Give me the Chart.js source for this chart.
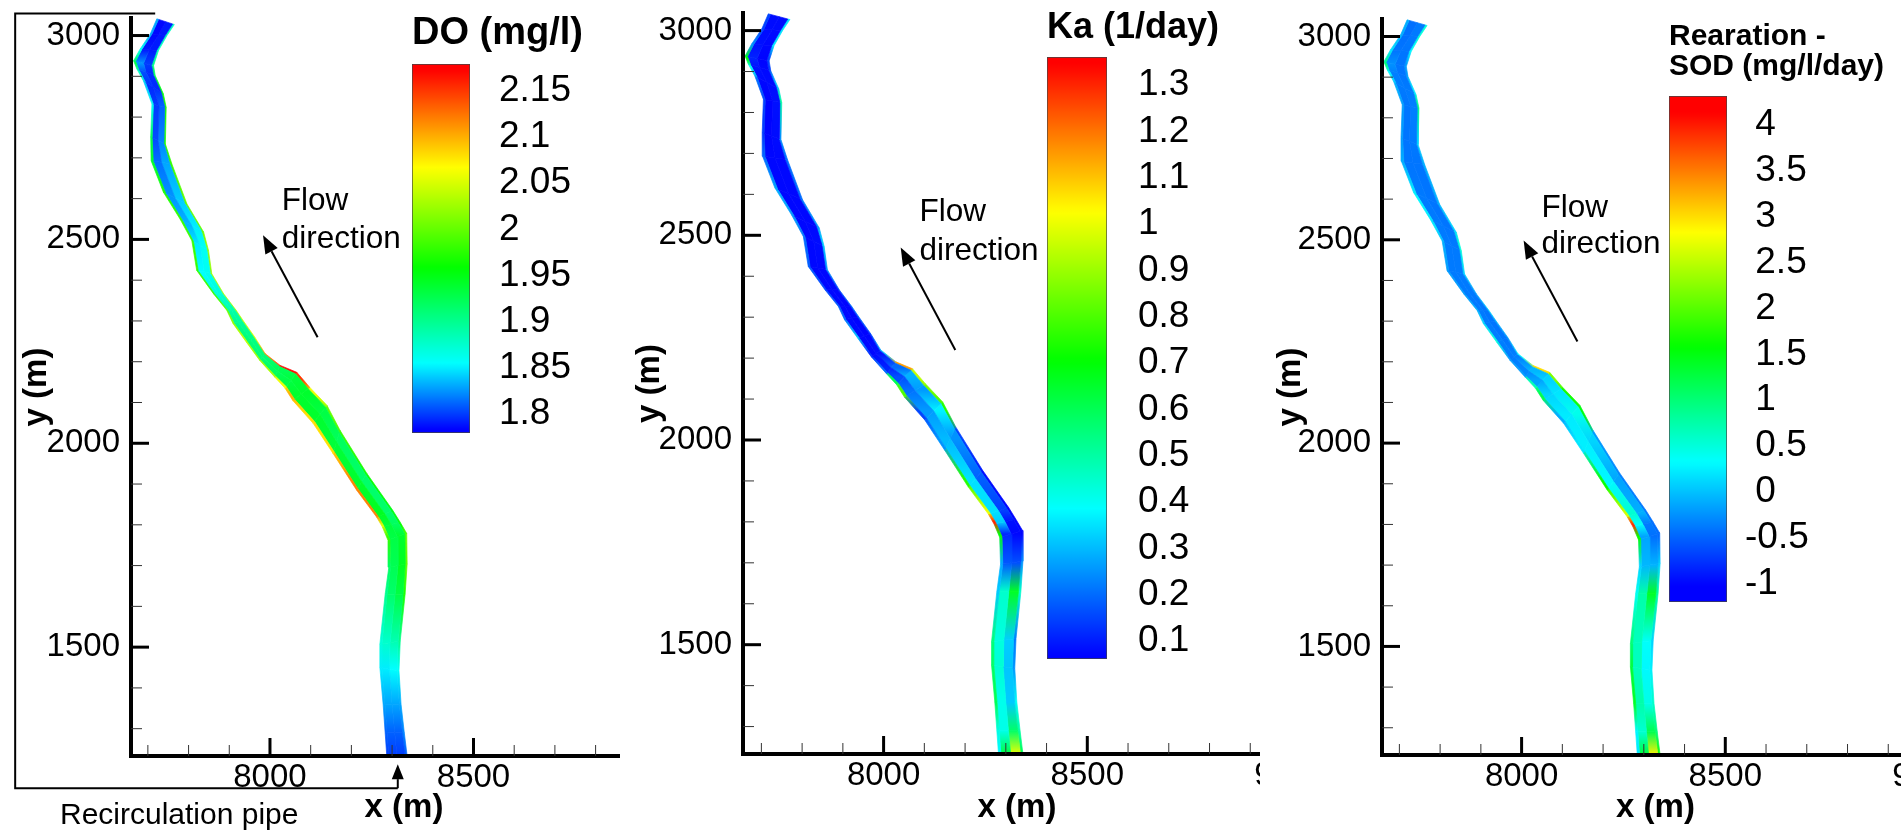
<!DOCTYPE html>
<html>
<head>
<meta charset="utf-8">
<title>DO, Ka and Rearation - SOD along the river</title>
<script src="https://cdn.jsdelivr.net/npm/chart.js@4"></script>
<style>
html, body { margin: 0; background: #fff; overflow: hidden; }
#page { position: relative; width: 1901px; height: 834px; overflow: hidden; }
.clip { position: absolute; top: 0; height: 834px; overflow: hidden; }
canvas { position: absolute; display: block; }
</style>
</head>
<body>
<div id="page"></div>
<script>
// river banks in metres, one pair per cross section, upstream end first
const leftX = [7722,7706,7681,7665,7673,7689,7710,7707,7708,7738,7779,7808,7820,7861,7894,7909,7942,7975,8012,8037,8056,8106,8155,8213,8262,8276,8290,8292,8283,8270,8270,8278,8283,8287];
const leftY = [3041,3004,2967,2938,2918,2889,2832,2751,2693,2616,2550,2497,2424,2367,2326,2294,2248,2203,2162,2135,2105,2049,1975,1885,1819,1795,1762,1696,1630,1507,1450,1360,1290,1233];
const rightX = [7765,7747,7726,7714,7718,7738,7745,7743,7759,7796,7837,7849,7857,7886,7917,7934,7963,7988,8025,8066,8098,8140,8172,8238,8302,8320,8336,8337,8332,8320,8317,8322,8330,8337];
const rightY = [3027,3000,2963,2926,2902,2857,2824,2734,2685,2587,2518,2473,2416,2367,2326,2301,2260,2220,2191,2174,2137,2093,2032,1926,1835,1806,1779,1704,1630,1515,1442,1360,1290,1233];

// values across each section: left bank, inner left, middle, inner right, right bank
const doRows = [
  [1.83,1.79,1.78,1.80,1.88],[1.83,1.79,1.78,1.80,1.88],[1.86,1.80,1.78,1.80,1.88],[1.93,1.85,1.80,1.80,1.90],
  [1.88,1.82,1.79,1.80,1.92],[1.84,1.80,1.79,1.80,1.95],[1.86,1.80,1.80,1.82,1.97],[1.93,1.80,1.81,1.83,1.97],
  [1.94,1.81,1.82,1.84,1.98],[1.97,1.82,1.83,1.85,2.00],[1.98,1.83,1.84,1.86,2.00],[1.98,1.85,1.85,1.87,2.02],
  [1.98,1.86,1.85,1.87,2.02],[1.98,1.88,1.86,1.88,2.03],[2.00,1.90,1.88,1.90,2.03],[2.02,1.91,1.89,1.90,2.04],
  [2.04,1.92,1.90,1.91,2.05],[2.02,1.92,1.90,1.92,2.12],[2.03,1.93,1.91,1.94,2.17],[2.06,1.94,1.92,1.95,2.15],
  [2.10,1.95,1.93,1.95,2.06],[2.08,1.95,1.93,1.93,2.00],[2.08,1.95,1.92,1.92,1.98],[2.12,1.96,1.92,1.91,1.96],
  [2.12,1.97,1.92,1.91,1.95],[2.05,1.95,1.92,1.92,1.96],[1.98,1.93,1.93,1.95,2.00],[1.92,1.92,1.93,1.96,2.00],
  [1.90,1.91,1.92,1.94,1.97],[1.87,1.87,1.88,1.89,1.90],[1.85,1.85,1.85,1.86,1.86],[1.83,1.83,1.83,1.83,1.83],
  [1.81,1.81,1.81,1.81,1.82],[1.80,1.80,1.80,1.80,1.81]
];
const kaRows = [
  [.15,.09,.07,.09,.35],[.15,.09,.07,.09,.35],[.25,.10,.07,.08,.35],[.70,.15,.07,.07,.15],
  [.40,.10,.07,.08,.15],[.20,.08,.07,.09,.30],[.15,.07,.07,.10,.50],[.14,.07,.07,.09,.25],
  [.20,.08,.07,.08,.20],[.28,.08,.07,.08,.20],[.25,.08,.07,.08,.25],[.20,.08,.07,.09,.32],
  [.18,.08,.07,.08,.25],[.15,.08,.07,.08,.15],[.18,.08,.07,.07,.20],[.20,.08,.07,.07,.18],
  [.30,.08,.07,.07,.15],[.12,.08,.07,.10,.30],[.20,.12,.10,.30,1.15],[.60,.15,.18,.40,.95],
  [.80,.20,.22,.30,.85],[.15,.20,.32,.42,.75],[.25,.30,.30,.20,.15],[.75,.45,.25,.12,.08],
  [1.00,.50,.20,.09,.07],[1.30,.55,.10,.07,.07],[.70,.15,.08,.07,.07],[.28,.20,.15,.18,.25],
  [.32,.30,.60,.72,.45],[.55,.45,.40,.25,.22],[.58,.50,.38,.25,.25],[.60,.50,.32,.32,.40],
  [.42,.38,.45,.70,.50],[.38,.35,.90,1.10,.60]
];
const sodRows = [
  [-.1,-.4,-.45,-.3,.5],[-.1,-.4,-.45,-.3,.5],[.2,-.35,-.45,-.35,.3],[1.0,-.1,-.4,-.4,-.2],
  [.3,-.3,-.4,-.4,-.2],[-.1,-.35,-.4,-.35,.2],[-.2,-.4,-.4,-.3,.9],[-.2,-.4,-.4,-.35,.1],
  [-.1,-.4,-.4,-.4,-.1],[.3,-.35,-.4,-.4,-.1],[.2,-.35,-.4,-.4,.1],[-.1,-.35,-.4,-.35,.5],
  [-.2,-.35,-.4,-.35,.1],[-.2,-.35,-.4,-.35,-.2],[-.1,-.35,-.4,-.4,.1],[.1,-.35,-.4,-.4,-.1],
  [.5,-.3,-.4,-.4,-.2],[-.2,-.35,-.4,-.3,.3],[-.2,-.3,-.3,.2,3.0],[.7,-.2,-.1,.3,2.2],
  [1.2,.1,.1,.3,1.7],[-.1,.1,.35,.5,1.5],[.2,.3,.2,0,-.2],[1.6,.6,0,-.3,-.35],
  [2.6,1.0,.1,-.3,-.4],[3.9,1.0,-.3,-.45,-.45],[1.6,.1,-.4,-.45,-.45],[.1,0,-.1,-.05,.1],
  [.4,.3,1.2,1.6,.8],[1.0,.8,.5,.2,.1],[1.3,.9,.4,.2,.25],[1.4,1.0,.5,.4,.6],
  [.3,.3,.8,1.6,1.0],[.2,.2,2.4,3.4,1.7]
];

const xTicks = [7700,7800,7900,8000,8100,8200,8300,8400,8500,8600,8700,8800,8900,9000];
const xLabels = [8000,8500,9000];
const yTicks = [1300,1400,1500,1600,1700,1800,1900,2000,2100,2200,2300,2400,2500,2600,2700,2800,2900,3000];
const yLabels = [1500,2000,2500,3000];

const doTicks = [2.15,2.1,2.05,2,1.95,1.9,1.85,1.8];
const kaTicks = [1.3,1.2,1.1,1,.9,.8,.7,.6,.5,.4,.3,.2,.1];
const sodTicks = [4,3.5,3,2.5,2,1.5,1,.5,0,-.5,-1];

// value at blue, cyan, green, yellow, red
const doStops = [1.783,1.855,1.958,2.067,2.173];
const kaStops = [.066,.386,.706,1.026,1.346];
const sodStops = [-1.02,.33,1.58,2.83,4.13];
const rampColors = [[0,0,255],[0,255,255],[0,255,0],[255,255,0],[255,0,0]];

const acrossBank = [0,.1,.5,.9,1];

const panels = [
  {
    rows: doRows, stops: doStops, left: 0, clipWidth: 620, axisLeft: 131, axisRight: 677.5, top: 18, bottom: 756,
    widen: 0, yTitleX: 37, arrow: [[8117,2260],[7983,2510]], flow: [8029,2594,2499],
    pipe: [[7718,3054],[7374,3054],[7374,1154],[8314,1154],[8314,1213]],
    bar: { left: 412, right: 470, top: 64, bottom: 433, min: 1.7793, max: 2.1793, ticks: doTicks, title: 'DO (mg/l)', size: 38, gap: 11, pad: 29, width: 175 }
  },
  {
    rows: kaRows, stops: kaStops, left: 625, clipWidth: 635, axisLeft: 743, axisRight: 1291, top: 13, bottom: 754,
    widen: 5, yTitleX: 25, arrow: [[8176,2220],[8042,2470]], flow: [8088,2556,2462],
    bar: { left: 1047, right: 1107, top: 57, bottom: 659, min: .0615, max: 1.3605, ticks: kaTicks, title: 'Ka (1/day)', size: 36, gap: 11, pad: 31, width: 180 }
  },
  {
    rows: sodRows, stops: sodStops, left: 1265, clipWidth: 636, axisLeft: 1382, axisRight: 1929, top: 19, bottom: 755,
    widen: 3, yTitleX: 26, arrow: [[8137,2250],[8005,2498]], flow: [8049,2578,2488],
    bar: { left: 1669, right: 1727, top: 96, bottom: 602, min: -1.197, max: 4.313, ticks: sodTicks, title: ['Rearation -','SOD (mg/l/day)'], size: 30, gap: 14, pad: 18, width: 232 }
  }
];

const labelFont = '"Liberation Sans", Arial, sans-serif';

function rampColor(value, stops) {
  if (value <= stops[0]) return 'rgb(0,0,255)';
  for (let i = 1; i < stops.length; i++) {
    if (value <= stops[i]) {
      const t = (value - stops[i - 1]) / (stops[i] - stops[i - 1]);
      const a = rampColors[i - 1], b = rampColors[i];
      return 'rgb(' + Math.round(a[0] + (b[0] - a[0]) * t) + ',' + Math.round(a[1] + (b[1] - a[1]) * t) + ',' + Math.round(a[2] + (b[2] - a[2]) * t) + ')';
    }
  }
  return 'rgb(255,0,0)';
}

// vertical gradient between two cross sections, used for the river cells
function cellGradient(context) {
  const chart = context.chart, ds = context.dataset;
  if (!chart.scales.y) return ds.colorTop;
  const y1 = chart.scales.y.getPixelForValue(ds.yTop);
  const y2 = chart.scales.y.getPixelForValue(ds.yBottom);
  if (!isFinite(y1) || !isFinite(y2)) return ds.colorTop;
  const g = chart.ctx.createLinearGradient(0, y1, 0, y2);
  g.addColorStop(0, ds.colorTop);
  g.addColorStop(1, ds.colorBottom);
  return g;
}

// the two thin bank cells show the bank value, the inner cells the mean of their edges
function cellValue(row, k) {
  if (k === 0) return row[0];
  if (k === acrossBank.length - 2) return row[row.length - 1];
  return (row[k] + row[k + 1]) / 2;
}

function riverCells(rows, stops, widen) {
  const cells = [];
  function at(i, k) {
    const f = acrossBank[k];
    const lx = leftX[i] - widen, rx = rightX[i] + widen;
    return { x: lx + (rx - lx) * f, y: leftY[i] + (rightY[i] - leftY[i]) * f };
  }
  for (let i = 0; i < rows.length - 1; i++) {
    for (let k = 0; k < acrossBank.length - 1; k++) {
      cells.push({
        data: [at(i, k), at(i, k + 1), at(i + 1, k + 1), at(i + 1, k), at(i, k)],
        showLine: true,
        fill: 'shape',
        pointRadius: 0,
        borderWidth: 0.7,
        yTop: (leftY[i] + rightY[i]) / 2,
        yBottom: (leftY[i + 1] + rightY[i + 1]) / 2,
        colorTop: rampColor(cellValue(rows[i], k), stops),
        colorBottom: rampColor(cellValue(rows[i + 1], k), stops),
        backgroundColor: cellGradient,
        borderColor: cellGradient
      });
    }
  }
  return cells;
}

function drawArrow(ctx, x1, y1, x2, y2, width, headLen, headHalf) {
  const a = Math.atan2(y2 - y1, x2 - x1);
  const bx = x2 - Math.cos(a) * headLen, by = y2 - Math.sin(a) * headLen;
  ctx.strokeStyle = '#000';
  ctx.fillStyle = '#000';
  ctx.lineWidth = width;
  ctx.beginPath();
  ctx.moveTo(x1, y1);
  ctx.lineTo(bx, by);
  ctx.stroke();
  ctx.beginPath();
  ctx.moveTo(x2, y2);
  ctx.lineTo(bx + Math.sin(a) * headHalf, by - Math.cos(a) * headHalf);
  ctx.lineTo(bx - Math.sin(a) * headHalf, by + Math.cos(a) * headHalf);
  ctx.closePath();
  ctx.fill();
}

// ticks point into the plot, which the library's own tick marks can't do
const panelExtras = {
  id: 'panelExtras',
  afterDraw(chart, args, opts) {
    const ctx = chart.ctx, sx = chart.scales.x, sy = chart.scales.y, p = opts.panel;
    const area = chart.chartArea;
    ctx.save();
    sx.ticks.forEach(t => {
      const major = xLabels.includes(t.value);
      const px = sx.getPixelForValue(t.value);
      ctx.strokeStyle = major ? '#000' : '#333';
      ctx.lineWidth = major ? 3 : 1;
      ctx.beginPath();
      ctx.moveTo(px, area.bottom);
      ctx.lineTo(px, area.bottom - (major ? 18 : 11));
      ctx.stroke();
    });
    sy.ticks.forEach(t => {
      const major = yLabels.includes(t.value);
      const py = sy.getPixelForValue(t.value);
      ctx.strokeStyle = major ? '#000' : '#333';
      ctx.lineWidth = major ? 3 : 1;
      ctx.beginPath();
      ctx.moveTo(area.left, py);
      ctx.lineTo(area.left + (major ? 18 : 11), py);
      ctx.stroke();
    });

    drawArrow(ctx, sx.getPixelForValue(p.arrow[0][0]), sy.getPixelForValue(p.arrow[0][1]),
      sx.getPixelForValue(p.arrow[1][0]), sy.getPixelForValue(p.arrow[1][1]), 2, 18, 7);

    ctx.fillStyle = '#000';
    ctx.font = '31.5px ' + labelFont;
    ctx.textAlign = 'left';
    ctx.textBaseline = 'middle';
    ctx.fillText('Flow', sx.getPixelForValue(p.flow[0]), sy.getPixelForValue(p.flow[1]));
    ctx.fillText('direction', sx.getPixelForValue(p.flow[0]), sy.getPixelForValue(p.flow[2]));

    if (p.pipe) {
      ctx.lineWidth = 2;
      ctx.strokeStyle = '#000';
      ctx.beginPath();
      p.pipe.slice(0, 4).forEach((pt, i) => {
        const px = sx.getPixelForValue(pt[0]), py = sy.getPixelForValue(pt[1]);
        if (i === 0) ctx.moveTo(px, py); else ctx.lineTo(px, py);
      });
      ctx.stroke();
      drawArrow(ctx, sx.getPixelForValue(p.pipe[3][0]), sy.getPixelForValue(p.pipe[3][1]),
        sx.getPixelForValue(p.pipe[4][0]), sy.getPixelForValue(p.pipe[4][1]), 2, 15, 6);
      ctx.fillStyle = '#000';
      ctx.font = '30px ' + labelFont;
      ctx.textAlign = 'left';
      ctx.textBaseline = 'middle';
      ctx.fillText('Recirculation pipe', 60, 816);
    }
    ctx.restore();
  }
};

// chart.js reserves room for the end tick labels, the axes here have to sit exactly
function noLabelPadding(s) {
  s.paddingTop = 0;
  s.paddingBottom = 0;
  s.paddingLeft = 0;
  s.paddingRight = 0;
}

function makeRiverChart(p, holder) {
  const clip = document.createElement('div');
  clip.className = 'clip';
  clip.style.left = p.left + 'px';
  clip.style.width = p.clipWidth + 'px';
  const canvas = document.createElement('canvas');
  canvas.width = p.axisRight - p.left + 50;
  canvas.height = 834;
  canvas.style.left = '0px';
  canvas.style.top = '0px';
  clip.appendChild(canvas);
  holder.appendChild(clip);

  // px per metre is about the same on both axes in all three panels
  const xMin = 9000 - (p.axisRight - p.axisLeft) / 0.4074;

  new Chart(canvas, {
    type: 'scatter',
    data: { datasets: riverCells(p.rows, p.stops, p.widen) },
    plugins: [panelExtras],
    options: {
      responsive: false,
      animation: false,
      events: [],
      layout: { padding: { top: p.top, right: 50, left: 0, bottom: 0 } },
      plugins: { legend: { display: false }, tooltip: { enabled: false }, panelExtras: { panel: p } },
      scales: {
        x: {
          type: 'linear', min: xMin, max: 9000,
          grid: { display: false, drawTicks: false },
          border: { display: true, color: '#000', width: 4, z: 2 },
          afterBuildTicks: s => { s.ticks = xTicks.map(v => ({ value: v })); },
          afterFit: s => { s.height = 834 - p.bottom; noLabelPadding(s); },
          ticks: {
            autoSkip: false, maxRotation: 0, minRotation: 0, padding: 2, color: '#000',
            font: { size: 33, family: labelFont },
            callback: v => xLabels.includes(v) ? String(v) : ''
          },
          title: { display: true, text: 'x (m)', color: '#000', font: { size: 33, weight: 'bold', family: labelFont }, padding: { top: 0, bottom: 6 } }
        },
        y: {
          type: 'linear', min: 1233, max: 3043,
          grid: { display: false, drawTicks: false },
          border: { display: true, color: '#000', width: 4, z: 2 },
          afterBuildTicks: s => { s.ticks = yTicks.map(v => ({ value: v })); },
          afterFit: s => { s.width = p.axisLeft - p.left; noLabelPadding(s); },
          ticks: {
            autoSkip: false, padding: 11, color: '#000',
            font: { size: 33, family: labelFont },
            callback: v => yLabels.includes(v) ? String(v) : ''
          },
          title: { display: true, text: 'y (m)', color: '#000', font: { size: 33, weight: 'bold', family: labelFont }, padding: { top: p.yTitleX - 20, bottom: 0 } }
        }
      }
    }
  });
}

function makeColorBar(p, holder) {
  const b = p.bar;
  const titleLines = Array.isArray(b.title) ? b.title.length : 1;
  const titleHeight = titleLines * b.size + b.gap;
  const canvas = document.createElement('canvas');
  canvas.width = b.width;
  canvas.height = b.bottom - b.top + titleHeight;
  canvas.style.left = b.left + 'px';
  canvas.style.top = (b.top - titleHeight) + 'px';
  holder.appendChild(canvas);

  const barWidth = b.right - b.left;
  new Chart(canvas, {
    type: 'bar',
    data: {
      labels: ['scale'],
      datasets: [{
        data: [[b.min, b.max]],
        barPercentage: 1,
        categoryPercentage: 1,
        borderColor: '#444',
        borderWidth: 1,
        borderSkipped: false,
        backgroundColor: context => {
          const chart = context.chart;
          const y = chart.scales.y;
          if (!y) return '#00f';
          const y1 = y.getPixelForValue(b.max), y2 = y.getPixelForValue(b.min);
          if (!isFinite(y1) || !isFinite(y2)) return '#00f';
          const g = chart.ctx.createLinearGradient(0, y1, 0, y2);
          for (let i = 0; i <= 100; i++) {
            const v = b.max + (b.min - b.max) * i / 100;
            g.addColorStop(i / 100, rampColor(v, p.stops));
          }
          return g;
        }
      }]
    },
    options: {
      responsive: false,
      animation: false,
      events: [],
      layout: { padding: 0 },
      plugins: {
        legend: { display: false },
        tooltip: { enabled: false },
        title: {
          display: true, text: b.title, align: 'start', color: '#000',
          font: { size: b.size, weight: 'bold', family: labelFont, lineHeight: 1 },
          padding: { top: 0, bottom: b.gap }
        }
      },
      scales: {
        x: { display: false },
        y: {
          position: 'right', min: b.min, max: b.max,
          grid: { display: false, drawTicks: false },
          border: { display: false },
          afterBuildTicks: s => { s.ticks = b.ticks.map(v => ({ value: v })); },
          afterFit: s => { s.width = b.width - barWidth; noLabelPadding(s); },
          ticks: {
            autoSkip: false, padding: b.pad, color: '#000',
            font: { size: 37, family: labelFont },
            // keeps the digits lined up with the minus sign hanging to the left
            callback: v => (b.ticks.some(t => t < 0) && v >= 0 ? '\u00a0' : '') + String(v)
          }
        }
      }
    }
  });
}

const page = document.getElementById('page');
panels.forEach(p => makeRiverChart(p, page));
panels.forEach(p => makeColorBar(p, page));
</script>
</body>
</html>
